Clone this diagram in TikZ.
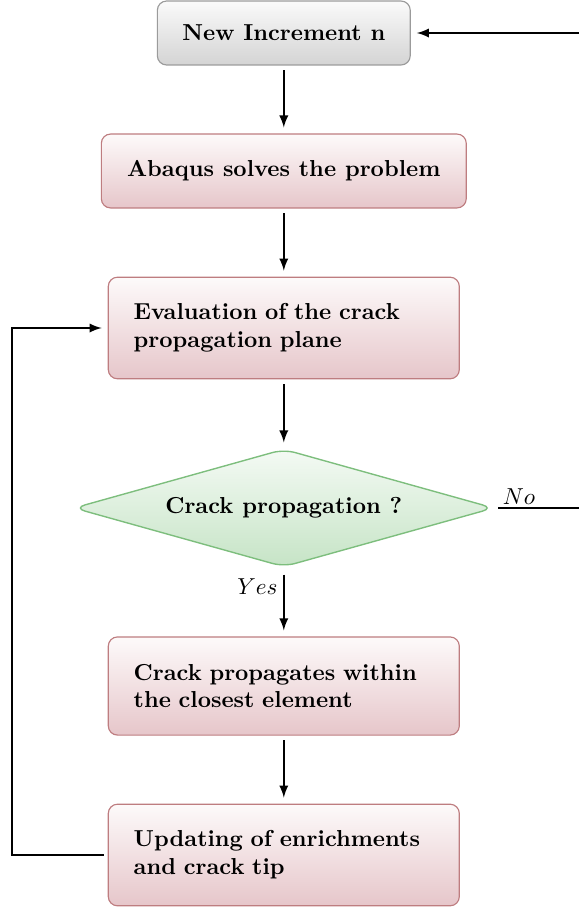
\documentclass[tikz,border=0pt]{standalone}
\usetikzlibrary{shapes.geometric}

\definecolor{grayline}{RGB}{155,155,155}
\definecolor{graytop}{RGB}{250,250,250}
\definecolor{graybot}{RGB}{212,212,212}
\definecolor{redline}{RGB}{190,125,128}
\definecolor{redtop}{RGB}{253,250,250}
\definecolor{redbot}{RGB}{230,198,202}
\definecolor{greenline}{RGB}{125,190,125}
\definecolor{greentop}{RGB}{244,250,244}
\definecolor{greenbot}{RGB}{198,228,198}

\tikzset{
  incbox/.style={draw=grayline, line width=0.5pt, rounded corners=4pt, top color=graytop, bottom color=graybot,
    font=\bfseries, minimum width=109.5pt, minimum height=27.7pt},
  stepbox/.style={draw=redline, line width=0.5pt, rounded corners=4pt, top color=redtop, bottom color=redbot,
    font=\bfseries, minimum width=152pt},
  textbox/.style={stepbox, text width=130pt, align=left, inner xsep=10.8pt, minimum height=44pt},
  testbox/.style={diamond, draw=greenline, line width=0.6pt, rounded corners=5pt, top color=greentop, bottom color=greenbot,
    font=\bfseries, minimum width=182pt, minimum height=51pt, inner sep=0pt, aspect=3.6},
  flow/.style={-latex, thick, shorten >=2.6pt, shorten <=2pt},
}

\begin{document}
\begin{tikzpicture}[x=0.433pt, y=-0.433pt]
\useasboundingbox (0,0) rectangle (578,911);
\node[incbox] (inc) at (283.8,33) {New Increment n};
\node[stepbox, minimum width=158pt, minimum height=32pt] (abq) at (283.8,171) {Abaqus solves the problem};
\node[textbox] (eval) at (283.8,328) {Evaluation of the crack propagation plane};
\node[testbox] (test) at (283.8,508) {Crack propagation ?};
\node[textbox, minimum height=42.5pt] (prop) at (283.8,686) {Crack propagates within the closest element};
\node[textbox] (upd) at (283.8,855) {Updating of enrichments and crack tip};
\coordinate (l1) at (12,855);
\coordinate (l2) at (12,328);
\coordinate (r1) at (640,508);
\coordinate (r2) at (640,33);
\draw [flow] (inc) -- (abq);
\draw [flow] (abq) -- (eval);
\draw [flow] (eval) -- (test);
\draw [flow, shorten <=3pt] (test) -- node[pos=0.27, left=-1pt] {$Yes$} (prop);
\draw [flow] (prop) -- (upd);
\draw [flow, shorten <=1.8pt] (upd) -- (l1) -- (l2) -- (eval);
\draw [flow, shorten <=1.5pt] (test) -- (r1) -- (r2) -- (inc);
\node (no) at (519,497) {$No$};
\end{tikzpicture}
\end{document}
